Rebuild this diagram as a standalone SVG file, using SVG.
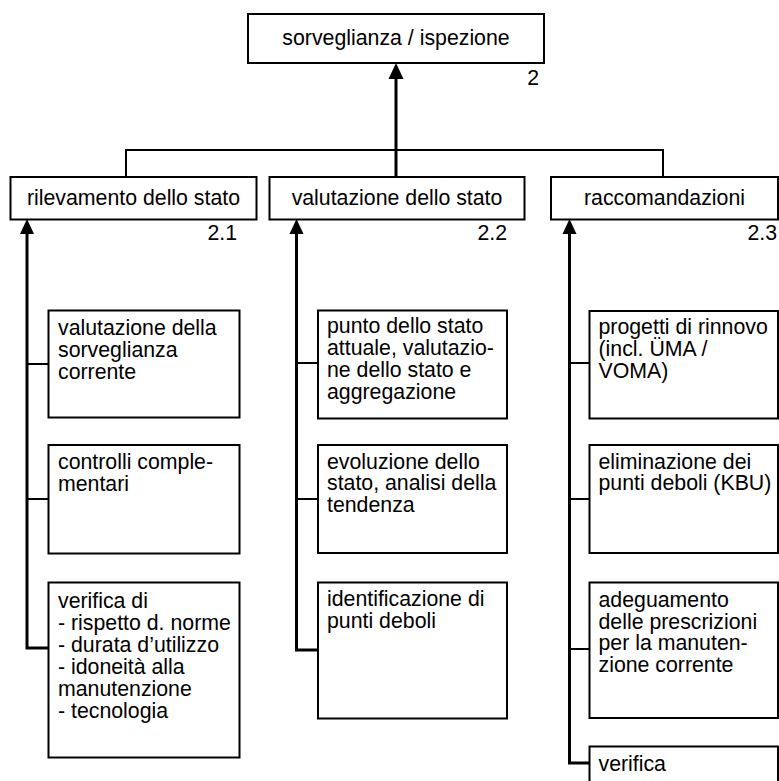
<svg xmlns="http://www.w3.org/2000/svg" width="779" height="781" viewBox="0 0 779 781">
<style>
.box{fill:#fff;stroke:#000;stroke-width:2}
.t{font-family:"Liberation Sans",Arial,sans-serif;font-size:21.3px;fill:#000}
.c{text-anchor:middle}
.n{text-anchor:end}
.thick{stroke:#000;stroke-width:3;fill:none}
.thin{stroke:#000;stroke-width:2;fill:none}
.ah{fill:#000}
</style>
<rect width="779" height="781" fill="#fff"/>
<g id="connectors">
  <polyline class="thin" points="126,177 126,150 663,150 663,177"/>
  <line class="thick" x1="396" y1="177" x2="396" y2="78"/>
  <polygon class="ah" points="396,63 388.5,79 403.5,79"/>
  <polyline class="thick" points="48,648 27,648 27,233"/>
  <line class="thin" x1="27" y1="364" x2="48" y2="364"/>
  <line class="thin" x1="27" y1="499" x2="48" y2="499"/>
  <polygon class="ah" points="27,219 20,234 34,234"/>
  <polyline class="thick" points="318,650 296.5,650 296.5,233"/>
  <line class="thin" x1="296.5" y1="363" x2="318" y2="363"/>
  <line class="thin" x1="296.5" y1="499" x2="318" y2="499"/>
  <polygon class="ah" points="296.5,219 289.5,234 303.5,234"/>
  <polyline class="thick" points="589,763 569.5,763 569.5,233"/>
  <line class="thin" x1="569.5" y1="363" x2="589" y2="363"/>
  <line class="thin" x1="569.5" y1="499" x2="589" y2="499"/>
  <line class="thin" x1="569.5" y1="649" x2="589" y2="649"/>
  <polygon class="ah" points="569.5,219 562.5,234 576.5,234"/>
</g>
<g id="n2">
  <rect class="box" x="248" y="14" width="296" height="49"/>
  <text class="t c" x="396" y="45">sorveglianza / ispezione</text>
  <text class="t n" x="539" y="85">2</text>
</g>
<g id="n21">
  <rect class="box" x="10.5" y="177" width="246" height="42.5"/>
  <text class="t c" x="133.5" y="205">rilevamento dello stato</text>
  <text class="t n" x="237" y="240">2.1</text>
</g>
<g id="n22">
  <rect class="box" x="269.5" y="177" width="255" height="42.5"/>
  <text class="t c" x="397" y="205">valutazione dello stato</text>
  <text class="t n" x="507" y="240">2.2</text>
</g>
<g id="n23">
  <rect class="box" x="551" y="177" width="227" height="42.5"/>
  <text class="t c" x="664.5" y="205">raccomandazioni</text>
  <text class="t n" x="777" y="240">2.3</text>
</g>
<g id="n211">
  <rect class="box" x="48.5" y="310.5" width="191" height="107"/>
  <text class="t" x="58" y="335">valutazione della</text>
  <text class="t" x="58" y="357">sorveglianza</text>
  <text class="t" x="58" y="379">corrente</text>
</g>
<g id="n212">
  <rect class="box" x="48.5" y="445" width="191" height="108.5"/>
  <text class="t" x="58" y="468.5">controlli comple-</text>
  <text class="t" x="58" y="490.5">mentari</text>
</g>
<g id="n213">
  <rect class="box" x="48.5" y="582.5" width="191" height="175"/>
  <text class="t" x="58" y="607.5">verifica di</text>
  <text class="t" x="58" y="629.5">- rispetto d. norme</text>
  <text class="t" x="58" y="651.5">- durata d’utilizzo</text>
  <text class="t" x="58" y="673.5">- idoneità alla</text>
  <text class="t" x="58" y="695.5">manutenzione</text>
  <text class="t" x="58" y="717.5">- tecnologia</text>
</g>
<g id="n221">
  <rect class="box" x="318" y="310.5" width="189" height="108"/>
  <text class="t" x="327" y="333">punto dello stato</text>
  <text class="t" x="327" y="355">attuale, valutazio-</text>
  <text class="t" x="327" y="377">ne dello stato e</text>
  <text class="t" x="327" y="398.5">aggregazione</text>
</g>
<g id="n222">
  <rect class="box" x="318" y="445" width="189" height="108"/>
  <text class="t" x="327" y="468.5">evoluzione dello</text>
  <text class="t" x="327" y="490">stato, analisi della</text>
  <text class="t" x="327" y="512">tendenza</text>
</g>
<g id="n223">
  <rect class="box" x="318" y="582.5" width="189" height="136"/>
  <text class="t" x="327" y="606">identificazione di</text>
  <text class="t" x="327" y="628">punti deboli</text>
</g>
<g id="n231">
  <rect class="box" x="589.5" y="311" width="188.5" height="107.5"/>
  <text class="t" x="598.5" y="334">progetti di rinnovo</text>
  <text class="t" x="598.5" y="356">(incl. ÜMA /</text>
  <text class="t" x="598.5" y="378">VOMA)</text>
</g>
<g id="n232">
  <rect class="box" x="589.5" y="445" width="188.5" height="108"/>
  <text class="t" x="598.5" y="468.5">eliminazione dei</text>
  <text class="t" x="598.5" y="490">punti deboli (KBU)</text>
</g>
<g id="n233">
  <rect class="box" x="589.5" y="582.5" width="188.5" height="135.5"/>
  <text class="t" x="598.5" y="606.5">adeguamento</text>
  <text class="t" x="598.5" y="628.5">delle prescrizioni</text>
  <text class="t" x="598.5" y="650">per la manuten-</text>
  <text class="t" x="598.5" y="672">zione corrente</text>
</g>
<g id="n234">
  <rect class="box" x="589.5" y="746.5" width="188.5" height="40"/>
  <text class="t" x="598.5" y="770.5">verifica</text>
</g>
</svg>
